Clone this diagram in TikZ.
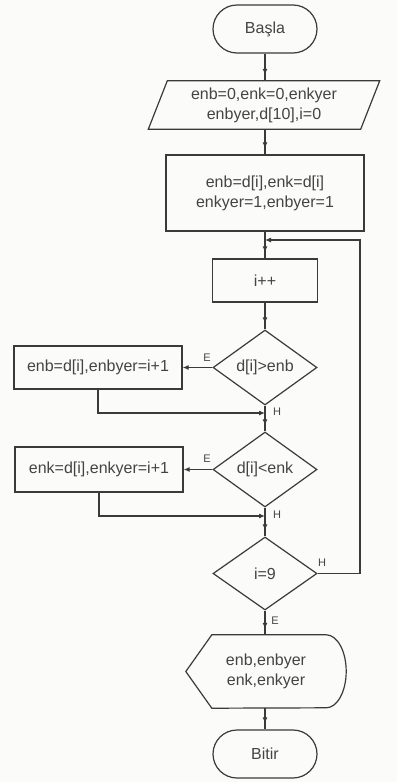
\documentclass[tikz,border=0pt]{standalone}
\usepackage{fontspec}
\setmainfont{Liberation Sans}
\usetikzlibrary{shapes.geometric,shapes.misc,arrows.meta,calc,decorations.markings}

\definecolor{ink}{RGB}{58,58,58}
\definecolor{txt}{RGB}{68,68,68}
\definecolor{paper}{RGB}{251,251,250}

\begin{document}
\begin{tikzpicture}[x=1pt,y=-1pt,
  base/.style={font=\fontsize{16}{20}\selectfont, text=txt, inner sep=0pt, align=center},
  term/.style={base, rounded rectangle, draw=ink, line width=1.2pt, minimum width=104pt, minimum height=48pt},
  proc/.style={base, rectangle, draw=ink, line width=1.2pt},
  dec/.style={base, diamond, draw=ink, line width=1.2pt, minimum width=104pt, minimum height=75pt},
  textframe/.style={base, rectangle},
  outline/.style={draw=ink, line width=1.2pt},
  conn/.style={draw=ink, line width=1.1pt},
  arrowend/.style={-{Latex[length=6pt,width=5pt]}},
  midarrow/.style={postaction={decorate}, decoration={markings,
      mark=at position -6pt with {\arrow{Latex[length=6pt,width=5pt]}}}},
  lbl/.style={font=\fontsize{11}{12}\selectfont, text=txt, inner sep=0pt}
]
\fill[paper] (0,0) rectangle (397,782);
\useasboundingbox (0,0) rectangle (397,782);

% ---- nodes ----
\node[term] (start) at (265,29) {Başla};

% input / declaration parallelogram
\node[textframe, minimum width=212pt, minimum height=48pt] (init) at (264,105)
  {enb=0,enk=0,enkyer\\enbyer,d[10],i=0};
\draw[outline] ($(init.north west)+(9.5,0)$) -- ($(init.north east)+(9.5,0)$)
  -- ($(init.south east)+(-9.5,0)$) -- ($(init.south west)+(-9.5,0)$) -- cycle;

\node[proc, minimum width=198pt, minimum height=76pt] (setup) at (265,193)
  {enb=d[i],enk=d[i]\\enkyer=1,enbyer=1};

\node[proc, minimum width=105pt, minimum height=43pt] (inc) at (265,280.5) {i++};

\node[dec] (c1) at (265,367.5) {\makebox[0pt]{d[i]>enb}};
\node[proc, minimum width=168pt, minimum height=43pt] (a1) at (98,367.5) {enb=d[i],enbyer=i+1};

\node[dec] (c2) at (265,469.5) {\makebox[0pt]{d[i]<enk}};
\node[proc, minimum width=168pt, minimum height=45pt] (a2) at (99,469.5) {enk=d[i],enkyer=i+1};

\node[dec, minimum height=73pt] (c3) at (265,573.5) {\makebox[0pt]{i=9}};

% output (display) shape
\node[textframe, minimum width=160pt, minimum height=73pt] (out) at (266,671.5)
  {enb,enbyer\\enk,enkyer};
\draw[outline] (out.west) -- ($(out.north west)+(26,0)$) -- ($(out.north east)+(-20,0)$)
  arc[start angle=-90, end angle=90, x radius=20, y radius=36.5]
  -- ($(out.south west)+(26,0)$) -- cycle;

\node[term] (stop) at (265,754) {Bitir};

% ---- connectors ----
\coordinate (m1) at (265,413);
\coordinate (m2) at (265,516);
\coordinate (loopin) at (265,240);
\coordinate (rc) at (360,240);

\draw[conn, midarrow] (start.south) -- (start.south |- init.north);
\draw[conn, midarrow] (start.south |- init.south) -- (setup.north);
\draw[conn, midarrow] (setup.south) -- (inc.north);
\draw[conn, midarrow] (inc.south) -- (c1.north);

\draw[conn, arrowend] (c1.west) -- (a1.east);
\node[lbl] at (207,358) {E};
\draw[conn, arrowend] (a1.south) |- (m1);
\node[lbl] at (277,412) {H};

\draw[conn, midarrow] (c1.south) -- (c2.north);
\draw[conn, arrowend] (c2.west) -- (a2.east);
\node[lbl] at (207,459) {E};
\draw[conn, arrowend] (a2.south) |- (m2);
\node[lbl] at (277,515) {H};

\draw[conn, midarrow] (c2.south) -- (c3.north);
\draw[conn, arrowend] (c3.east) -| (rc) -- (loopin);
\node[lbl] at (322,563) {H};

\draw[conn, midarrow] (c3.south) -- (c3.south |- out.north);
\node[lbl] at (275,621) {E};
\draw[conn, midarrow] (c3.south |- out.south) -- (stop.north);
\end{tikzpicture}
\end{document}
